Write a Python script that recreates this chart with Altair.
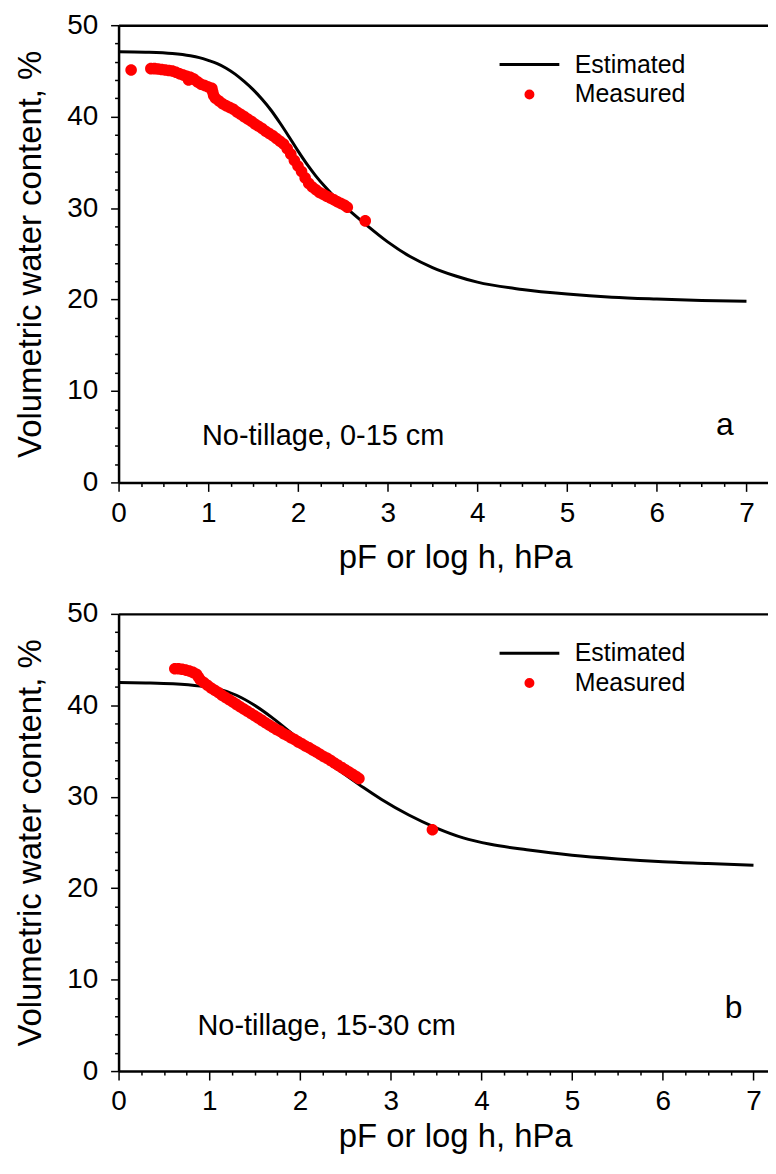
import altair as alt
import pandas as pd

FONT = "Liberation Sans"
SERIES = ["Estimated", "Measured"]
SERIES_COLORS = ["black", "red"]

# ---------- Panel a: No-tillage, 0-15 cm ----------
est_a_x = [0.0, 0.3, 0.6, 0.8, 0.9, 1.0, 1.1, 1.2, 1.3, 1.4, 1.5, 1.6, 1.7, 1.8, 1.9,
           2.0, 2.1, 2.2, 2.3, 2.4, 2.5, 2.6, 2.75, 3.0, 3.25, 3.5, 3.75, 4.0, 4.5,
           5.0, 5.5, 6.0, 6.5, 7.0]
est_a_y = [47.1, 47.05, 46.9, 46.65, 46.45, 46.15, 45.8, 45.3, 44.65, 43.85, 42.95, 41.9,
           40.7, 39.3, 37.8, 36.25, 34.8, 33.5, 32.35, 31.3, 30.35, 29.5, 28.25, 26.3, 24.7,
           23.5, 22.6, 21.9, 21.1, 20.6, 20.25, 20.05, 19.9, 19.8]

meas_a_x = [0.14, 0.36, 0.40, 0.44, 0.48, 0.52, 0.56, 0.60, 0.64, 0.68, 0.72, 0.76, 0.78,
            0.80, 0.84, 0.88, 0.92, 0.96, 1.00, 1.04, 1.05, 1.06, 1.08, 1.12, 1.16, 1.20,
            1.24, 1.28, 1.32, 1.36, 1.40, 1.44, 1.48, 1.52, 1.56, 1.60, 1.64, 1.68, 1.72,
            1.76, 1.80, 1.84, 1.88, 1.92, 1.96, 2.00, 2.04, 2.08, 2.12, 2.16, 2.20, 2.24,
            2.28, 2.32, 2.36, 2.40, 2.44, 2.48, 2.52, 2.55, 2.75]
meas_a_y = [45.1, 45.25, 45.25, 45.2, 45.15, 45.1, 45.05, 45.0, 44.85, 44.7, 44.55, 44.4,
            44.0, 44.3, 44.1, 43.8, 43.55, 43.4, 43.25, 43.1, 42.7, 42.3, 42.0, 41.7, 41.4,
            41.2, 41.0, 40.8, 40.5, 40.25, 40.0, 39.75, 39.5, 39.2, 38.95, 38.7, 38.4,
            38.15, 37.9, 37.6, 37.3, 37.0, 36.5, 35.9, 35.2, 34.6, 34.0, 33.3, 32.7, 32.3,
            32.0, 31.7, 31.5, 31.3, 31.1, 30.9, 30.7, 30.5, 30.3, 30.1, 28.6]

# ---------- Panel b: No-tillage, 15-30 cm ----------
est_b_x = [0.0, 0.3, 0.6, 0.9, 1.1, 1.3, 1.5, 1.7, 1.9, 2.1, 2.3, 2.5, 2.7, 2.9, 3.2,
           3.5, 3.8, 4.1, 4.5, 5.0, 5.5, 6.0, 6.5, 7.0]
est_b_y = [42.5, 42.45, 42.35, 42.1, 41.8, 41.1, 40.0, 38.6, 37.0, 35.3, 33.8, 32.4, 31.0,
           29.7, 28.0, 26.6, 25.5, 24.8, 24.2, 23.6, 23.2, 22.9, 22.7, 22.5]

meas_b_x = [0.62, 0.66, 0.70, 0.74, 0.78, 0.82, 0.86, 0.88, 0.90, 0.94, 0.98, 1.02, 1.06,
            1.10, 1.14, 1.18, 1.22, 1.26, 1.30, 1.34, 1.38, 1.42, 1.46, 1.50, 1.54, 1.58,
            1.62, 1.66, 1.70, 1.74, 1.78, 1.82, 1.86, 1.90, 1.94, 1.98, 2.02, 2.06, 2.10,
            2.14, 2.18, 2.22, 2.26, 2.30, 2.34, 2.38, 2.42, 2.46, 2.50, 2.54, 2.58, 2.62,
            2.65, 3.46]
meas_b_y = [44.0, 44.0, 43.95, 43.85, 43.75, 43.6, 43.4, 43.1, 42.8, 42.5, 42.2, 41.9,
            41.65, 41.4, 41.1, 40.85, 40.6, 40.35, 40.1, 39.85, 39.6, 39.35, 39.1, 38.85,
            38.6, 38.35, 38.1, 37.85, 37.6, 37.35, 37.15, 36.9, 36.7, 36.45, 36.25, 36.0,
            35.8, 35.55, 35.35, 35.1, 34.9, 34.65, 34.4, 34.2, 33.95, 33.7, 33.45, 33.2,
            32.95, 32.7, 32.45, 32.2, 32.0, 26.4]

# annotations (data coordinates)
notes = ["No-tillage, 0-15 cm", "No-tillage, 15-30 cm"]
notes_x = [0.93, 0.87]
notes_y = [4.1, 3.9]
letters = ["a", "b"]
letters_x = [6.76, 6.78]
letters_y = [5.2, 5.8]

# tick positions (major labelled, minor unlabelled)
x_tick_values = [i * 0.25 for i in range(0, 29)]
y_tick_values = list(range(0, 51, 2))

X_TITLE = "pF or log h, hPa"
Y_TITLE = "Volumetric water content, %"

LINE_SYMBOL = "M-3,0H3"
DOT_SYMBOL = "M-0.35,0A0.35,0.35,0,1,1,0.35,0A0.35,0.35,0,1,1,-0.35,0Z"

W, H = 652, 459


def x_axis(title_y):
    return alt.Axis(
        values=x_tick_values,
        labelExpr="datum.value % 1 === 0 ? '' + datum.value : ''",
        tickSize={"condition": {"test": "datum.value % 1 === 0", "value": 9}, "value": 4},
        tickWidth=1.5, domainWidth=2.5, labelFontSize=28, labelPadding=8,
        labelFlush=False, labelOverlap=False, grid=False,
        title=X_TITLE, titleFontSize=33, titleX=338, titleY=title_y,
        titleBaseline="alphabetic",
    )


def top_axis():
    return alt.Axis(orient="top", labels=False, ticks=False, domain=True,
                    domainWidth=2.5, title=None, grid=False)


def y_axis():
    return alt.Axis(
        values=y_tick_values,
        labelExpr="datum.value % 10 === 0 ? '' + datum.value : ''",
        tickSize={"condition": {"test": "datum.value % 10 === 0", "value": 8}, "value": 4},
        tickWidth=1.5, domainWidth=2.5, labelFontSize=28, labelPadding=13,
        labelOverlap=False, grid=False,
        title=Y_TITLE, titleFontSize=33, titleX=-78, titleBaseline="alphabetic",
    )


def panel(ex, ey, mx, my, x_max, idx, title_y):
    est = pd.DataFrame({"pF": ex, "theta": ey})
    meas = pd.DataFrame({"pF": mx, "theta": my, "series": ["Measured"] * len(mx)})
    note_df = pd.DataFrame({"x": [notes_x[idx]], "y": [notes_y[idx]], "label": [notes[idx]]})
    letter_df = pd.DataFrame({"x": [letters_x[idx]], "y": [letters_y[idx]], "label": [letters[idx]]})

    xs = alt.Scale(domain=[0, x_max], nice=False, zero=False)
    ys = alt.Scale(domain=[0, 50], nice=False)

    legend = alt.Legend(
        title=None, orient="none", legendX=400, legendY=27,
        labelFontSize=25, labelFont=FONT, labelColor="black",
        symbolSize=400, symbolStrokeWidth=3, labelOffset=33,
        rowPadding=4, padding=0, symbolOpacity=1,
    )

    line = alt.Chart(est).mark_line(color="black", strokeWidth=3, interpolate="monotone").encode(
        x=alt.X("pF:Q", scale=xs, axis=x_axis(title_y)),
        y=alt.Y("theta:Q", scale=ys, axis=y_axis()),
    )
    pts = alt.Chart(meas).mark_point(filled=True, size=1100, opacity=1, strokeWidth=0).encode(
        x=alt.X("pF:Q", scale=xs, axis=None),
        y=alt.Y("theta:Q", scale=ys, axis=y_axis()),
        fill=alt.Fill("series:N", scale=alt.Scale(domain=SERIES, range=SERIES_COLORS), legend=legend),
        stroke=alt.Stroke("series:N", scale=alt.Scale(domain=SERIES, range=SERIES_COLORS), legend=legend),
        shape=alt.Shape("series:N", scale=alt.Scale(domain=SERIES, range=[LINE_SYMBOL, DOT_SYMBOL]), legend=legend),
    )
    note = alt.Chart(note_df).mark_text(align="left", baseline="alphabetic", fontSize=29,
                                        color="black").encode(
        x=alt.X("x:Q", scale=xs, axis=top_axis()),
        y=alt.Y("y:Q", scale=ys, axis=y_axis()),
        text="label:N",
    )
    letter = alt.Chart(letter_df).mark_text(align="center", baseline="alphabetic", fontSize=32,
                                            color="black").encode(
        x=alt.X("x:Q", scale=xs, axis=None),
        y=alt.Y("y:Q", scale=ys, axis=y_axis()),
        text="label:N",
    )
    return alt.layer(line, pts, note, letter).resolve_axis(x="independent").properties(width=W, height=H)


panel_a = panel(est_a_x, est_a_y, meas_a_x, meas_a_y, 7.24, 0, 85)
panel_b = panel(est_b_x, est_b_y, meas_b_x, meas_b_y, 7.16, 1, 76)

chart = (
    alt.vconcat(panel_a, panel_b, spacing=132, bounds="flush")
    .resolve_scale(x="independent", y="independent", fill="independent",
                   stroke="independent", shape="independent")
    .resolve_legend(fill="independent", stroke="independent", shape="independent")
    .properties(padding={"left": 6, "top": 1, "right": 0, "bottom": 0}, background="white")
    .configure(font=FONT)
    .configure_view(stroke=None)
    .configure_axis(domainColor="black", tickColor="black", labelColor="black",
                    titleColor="black", labelFont=FONT, titleFont=FONT,
                    titleFontWeight="normal")
)

chart.save("out.html", embed_options={"renderer": "svg", "actions": False})
